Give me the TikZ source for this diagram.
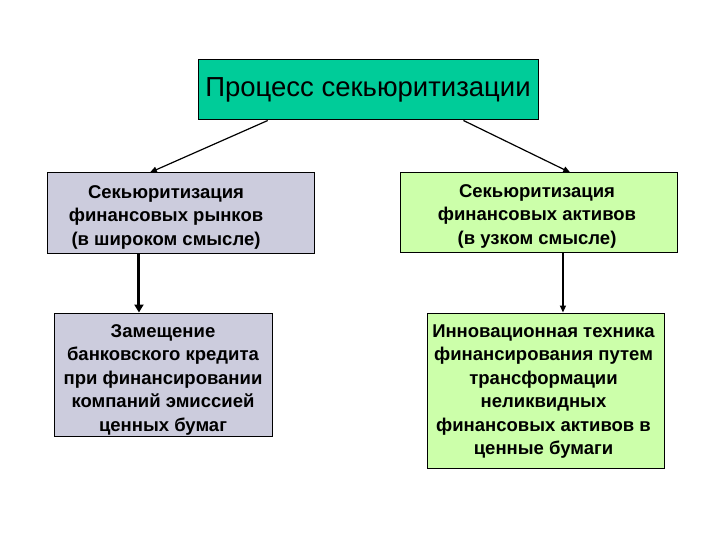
\documentclass[tikz,border=0pt]{standalone}
\usepackage{fontspec}
\setmainfont{Liberation Sans}
\usetikzlibrary{arrows.meta,calc}
\definecolor{tealbox}{RGB}{0,204,153}
\definecolor{lavbox}{RGB}{204,204,221}
\definecolor{greenbox}{RGB}{204,255,170}
\begin{document}
\begin{tikzpicture}[x=1pt,y=-1pt,
  box/.style={draw=black, line width=1pt, inner sep=0pt, align=center},
  bodytext/.style={font=\fontsize{18.5}{23.5}\selectfont\bfseries, align=center, inner sep=0pt},
  arr/.style={-{Triangle[length=7pt,width=6pt]}, line width=1.2pt}]
\useasboundingbox (0,0) rectangle (720,540);
\node[box, fill=tealbox, minimum width=340pt, minimum height=60pt, font=\fontsize{27.5}{32}\selectfont] (title) at (368,90) {Процесс секьюритизации};
\node[box, fill=lavbox, minimum width=267pt, minimum height=80pt] (L1) at (180.5,213) {};
\node[bodytext] (L1t) at (166,217) {Секьюритизация\\финансовых рынков\\(в широком смысле)};
\node[box, fill=greenbox, minimum width=277pt, minimum height=79pt] (R1) at (538.5,212.5) {};
\node[bodytext] (R1t) at (537,216) {Секьюритизация\\финансовых активов\\(в узком смысле)};
\node[box, fill=lavbox, minimum width=218pt, minimum height=123pt] (L2) at (163,374.5) {};
\node[bodytext] (L2t) at (163,379.5) {Замещение\\банковского кредита\\при финансировании\\компаний эмиссией\\ценных бумаг};
\node[box, fill=greenbox, minimum width=237pt, minimum height=155pt] (R2) at (545.5,390.5) {};
\node[bodytext] (R2t) at (543.5,391.5) {Инновационная техника\\финансирования путем\\трансформации\\неликвидных\\финансовых активов в\\ценные бумаги};
\coordinate (t1) at ($(title.south west)!0.206!(title.south east)$);
\coordinate (t2) at ($(title.south west)!0.78!(title.south east)$);
\coordinate (e1) at ($(L1.north west)!0.386!(L1.north east)$);
\coordinate (e2) at ($(R1.north west)!0.614!(R1.north east)$);
\draw[arr] (t1) -- (e1);
\draw[arr] (t2) -- (e2);
\coordinate (v1) at ($(L1.south west)!0.345!(L1.south east)$);
\coordinate (v2) at ($(R1.south west)!0.588!(R1.south east)$);
\draw[arr, line width=3pt, -{Triangle[length=8pt,width=9pt]}] (v1) -- (v1 |- L2.north);
\draw[arr, line width=1.5pt] (v2) -- (v2 |- R2.north);
\end{tikzpicture}
\end{document}
